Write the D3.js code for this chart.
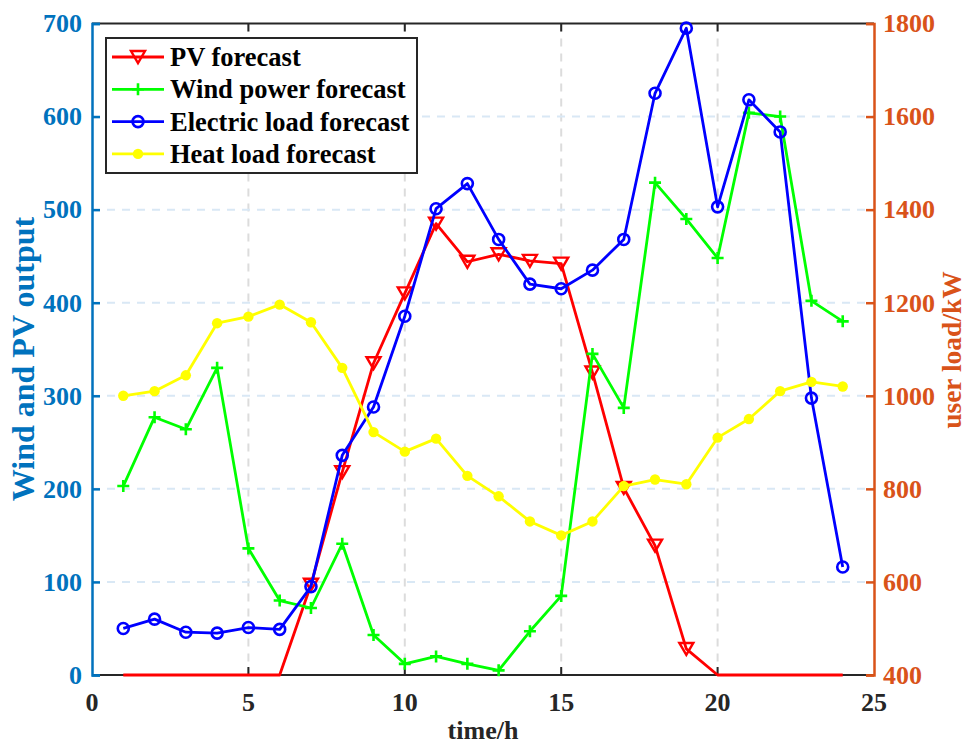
<!DOCTYPE html>
<html>
<head>
<meta charset="utf-8">
<script src="https://cdn.jsdelivr.net/npm/d3@7"></script>
<style>
  html, body { margin: 0; padding: 0; background: #fff; }
  svg text { font-family: "Liberation Serif", "Times New Roman", serif; font-weight: bold; }
</style>
</head>
<body>
<div id="chart"></div>
<script>
// Hourly forecast data
const hours = d3.range(1, 25);
const pvForecast = [0, 0, 0, 0, 0, 0, 97, 218, 335, 410, 485, 444, 452, 445, 442, 325, 201, 139, 28, 0, 0, 0, 0, 0];
const windForecast = [203, 277, 264, 330, 136, 80, 72, 141, 43, 12, 20, 12, 5, 47, 85, 345, 287, 529, 490, 448, 604, 600, 402, 380];
const electricLoad = [500, 520, 492, 490, 502, 498, 590, 872, 976, 1171, 1402, 1456, 1336, 1240, 1230, 1270, 1336, 1650, 1790, 1406, 1636, 1567, 995, 632];
const heatLoad = [1000, 1010, 1044, 1156, 1170, 1196, 1158, 1060, 922, 880, 908, 828, 784, 730, 700, 730, 806, 820, 810, 910, 950, 1010, 1030, 1020];

const xTicks = [0, 5, 10, 15, 20, 25];
const leftTicks = [0, 100, 200, 300, 400, 500, 600, 700];
const rightTicks = [400, 600, 800, 1000, 1200, 1400, 1600, 1800];

const width = 968, height = 745;
const plot = { left: 92, right: 874, top: 23.5, bottom: 675 };

const leftColor = '#0072BD';
const rightColor = '#D95319';
const axisColor = '#262626';

const svg = d3.select('#chart')
  .append('svg')
  .attr('width', width)
  .attr('height', height);

const x = d3.scaleLinear().domain([0, 25]).range([plot.left, plot.right]);
const yL = d3.scaleLinear().domain([0, 700]).range([plot.bottom, plot.top]);
const yR = d3.scaleLinear().domain([400, 1800]).range([plot.bottom, plot.top]);

svg.append('defs').append('clipPath')
  .attr('id', 'plot-clip')
  .append('rect')
  .attr('x', plot.left)
  .attr('y', plot.top - 8)
  .attr('width', plot.right - plot.left)
  .attr('height', plot.bottom - plot.top + 10);

// Grid lines
const grid = svg.append('g');
grid.selectAll('line.vgrid')
  .data(xTicks.slice(1, -1))
  .join('line')
  .attr('x1', d => x(d)).attr('x2', d => x(d))
  .attr('y1', plot.top).attr('y2', plot.bottom)
  .attr('stroke', '#dcdcdc')
  .attr('stroke-width', 2)
  .attr('stroke-dasharray', '8,7');

grid.selectAll('line.hgrid')
  .data(leftTicks.slice(1, -1))
  .join('line')
  .attr('x1', plot.left).attr('x2', plot.right)
  .attr('y1', d => yL(d)).attr('y2', d => yL(d))
  .attr('stroke', '#d9e8f5')
  .attr('stroke-width', 2)
  .attr('stroke-dasharray', '8,7');

// Top and bottom axis lines (under the data, as in the original)
svg.append('line')
  .attr('x1', plot.left).attr('x2', plot.right)
  .attr('y1', plot.top).attr('y2', plot.top)
  .attr('stroke', axisColor).attr('stroke-width', 2);
svg.append('line')
  .attr('x1', plot.left).attr('x2', plot.right)
  .attr('y1', plot.bottom).attr('y2', plot.bottom)
  .attr('stroke', axisColor).attr('stroke-width', 2);

// X ticks (inward, top and bottom)
const xTickG = svg.append('g');
xTicks.slice(1, -1).forEach(t => {
  xTickG.append('line')
    .attr('x1', x(t)).attr('x2', x(t))
    .attr('y1', plot.bottom).attr('y2', plot.bottom - 8)
    .attr('stroke', axisColor).attr('stroke-width', 2);
  xTickG.append('line')
    .attr('x1', x(t)).attr('x2', x(t))
    .attr('y1', plot.top).attr('y2', plot.top + 8)
    .attr('stroke', axisColor).attr('stroke-width', 2);
});
svg.append('g')
  .selectAll('text')
  .data(xTicks)
  .join('text')
  .attr('x', d => x(d))
  .attr('y', plot.bottom + 36)
  .attr('text-anchor', 'middle')
  .attr('fill', axisColor)
  .style('font-size', '26px')
  .text(d => d);

// Left axis
const leftAxis = d3.axisLeft(yL)
  .tickValues(leftTicks)
  .tickSize(-8)
  .tickPadding(10)
  .tickFormat(d3.format('d'));
const gL = svg.append('g')
  .attr('transform', `translate(${plot.left},0)`)
  .call(leftAxis);
gL.select('.domain').attr('stroke', leftColor).attr('stroke-width', 2.5);
gL.selectAll('.tick line').attr('stroke', leftColor).attr('stroke-width', 2.5);
gL.selectAll('.tick text')
  .attr('fill', leftColor)
  .style('font-size', '26px')
  .style('font-family', '"Liberation Serif", serif')
  .style('font-weight', 'bold');

// Right axis
const rightAxis = d3.axisRight(yR)
  .tickValues(rightTicks)
  .tickSize(-8)
  .tickPadding(9)
  .tickFormat(d3.format('d'));
const gR = svg.append('g')
  .attr('transform', `translate(${plot.right},0)`)
  .call(rightAxis);
gR.select('.domain').attr('stroke', rightColor).attr('stroke-width', 2.5);
gR.selectAll('.tick line').attr('stroke', rightColor).attr('stroke-width', 2.5);
gR.selectAll('.tick text')
  .attr('fill', rightColor)
  .style('font-size', '26px')
  .style('font-family', '"Liberation Serif", serif')
  .style('font-weight', 'bold');

// Series
const series = [
  { name: 'PV forecast', values: pvForecast, scale: yL, color: '#ff0000', marker: 'tri' },
  { name: 'Wind power forecast', values: windForecast, scale: yL, color: '#00ff00', marker: 'plus' },
  { name: 'Electric load forecast', values: electricLoad, scale: yR, color: '#0000ff', marker: 'circle' },
  { name: 'Heat load forecast', values: heatLoad, scale: yR, color: '#ffff00', marker: 'dot' }
];

function drawMarker(g, type, color) {
  if (type === 'tri') {
    g.append('path')
      .attr('d', 'M-7,-6 L7,-6 L0,6 Z')
      .attr('fill', 'none')
      .attr('stroke', color)
      .attr('stroke-width', 2.4);
  } else if (type === 'plus') {
    g.append('path')
      .attr('d', 'M-6,0 L6,0 M0,-6 L0,6')
      .attr('stroke', color)
      .attr('stroke-width', 2.6);
  } else if (type === 'circle') {
    g.append('circle')
      .attr('r', 5.5)
      .attr('fill', 'none')
      .attr('stroke', color)
      .attr('stroke-width', 2.6);
  } else {
    g.append('circle')
      .attr('r', 5.2)
      .attr('fill', color);
  }
}

const dataLayer = svg.append('g').attr('clip-path', 'url(#plot-clip)');

series.forEach(s => {
  const line = d3.line()
    .x((d, i) => x(hours[i]))
    .y(d => s.scale(d));

  dataLayer.append('path')
    .datum(s.values)
    .attr('d', line)
    .attr('fill', 'none')
    .attr('stroke', s.color)
    .attr('stroke-width', 2.8)
    .attr('stroke-linejoin', 'round');

  // PV markers at zero sit on the axis and are hidden in the original
  s.values.forEach((v, i) => {
    if (s.marker === 'tri' && v === 0) return;
    const g = dataLayer.append('g')
      .attr('transform', `translate(${x(hours[i])},${s.scale(v)})`);
    drawMarker(g, s.marker, s.color);
  });
});

// Axis titles
svg.append('text')
  .attr('transform', 'translate(34,359) rotate(-90)')
  .attr('text-anchor', 'middle')
  .attr('fill', leftColor)
  .style('font-size', '32px')
  .text('Wind and PV output');

svg.append('text')
  .attr('transform', 'translate(961,350) rotate(-90)')
  .attr('text-anchor', 'middle')
  .attr('fill', rightColor)
  .style('font-size', '27.5px')
  .text('user load/kW');

svg.append('text')
  .attr('x', (plot.left + plot.right) / 2)
  .attr('y', 739)
  .attr('text-anchor', 'middle')
  .attr('fill', axisColor)
  .style('font-size', '26px')
  .text('time/h');

// Legend
const legend = svg.append('g').attr('transform', 'translate(106,38)');
legend.append('rect')
  .attr('width', 311)
  .attr('height', 135)
  .attr('fill', '#fff')
  .attr('stroke', axisColor)
  .attr('stroke-width', 2);

series.forEach((s, i) => {
  const yy = 19 + i * 32.3;
  legend.append('line')
    .attr('x1', 6).attr('x2', 58)
    .attr('y1', yy).attr('y2', yy)
    .attr('stroke', s.color)
    .attr('stroke-width', 2.8);
  const g = legend.append('g').attr('transform', `translate(32,${yy})`);
  drawMarker(g, s.marker, s.color);
  legend.append('text')
    .attr('x', 64)
    .attr('y', yy + 9)
    .attr('fill', '#000')
    .style('font-size', '26.5px')
    .text(s.name);
});
</script>
</body>
</html>
